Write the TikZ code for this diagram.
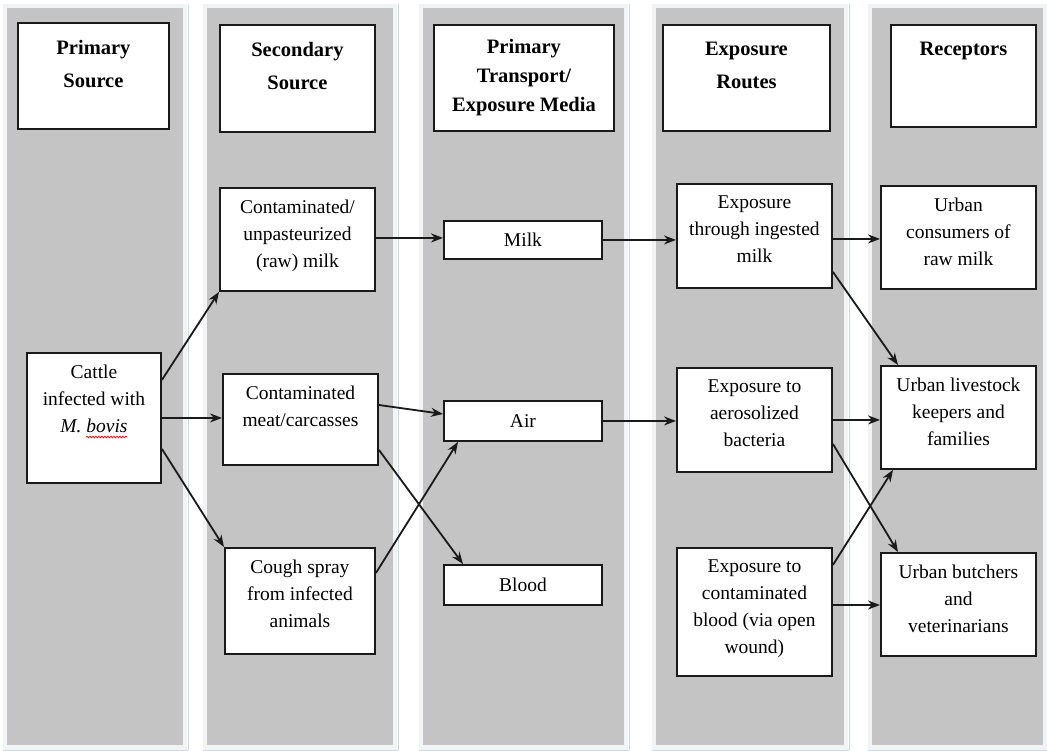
\documentclass[tikz,border=0pt]{standalone}
\usepackage{fontspec}
\setmainfont{Liberation Serif}
\usetikzlibrary{arrows.meta,decorations.pathmorphing}
\definecolor{colgray}{HTML}{C4C4C4}
\definecolor{colframe}{HTML}{F1F3F4}
\definecolor{frameline}{HTML}{C9DAE2}
\definecolor{boxline}{HTML}{1A1A1A}
\tikzset{
  box/.style={draw=boxline, fill=white, line width=1.9pt, inner sep=0pt, anchor=north west,
              font=\fontsize{19.5}{27}\selectfont},
  txt/.style={anchor=north, yshift=-13pt, align=center, inner sep=0pt, font=\fontsize{19.5}{27}\selectfont},
  htxt/.style={anchor=north, yshift=-18pt, align=center, inner sep=0pt, font=\bfseries\fontsize{20.5}{33}\selectfont},
  htxtb/.style={anchor=north, yshift=-15pt, align=center, inner sep=0pt, font=\bfseries\fontsize{20.5}{29}\selectfont},
  arr/.style={draw=boxline, line width=1.8pt, -{Stealth[length=12pt,width=9pt]}},
  colbox/.style={fill=colgray},
}
\begin{document}
\begin{tikzpicture}[x=1pt,y=-1pt]
\useasboundingbox (0,0) rectangle (1047,751);
\fill[white] (0,0) rectangle (1047,751);
% columns
\foreach \a/\b in {7/183, 207/393, 423/624, 656/844, 872/1043}{
  \fill[colframe] (\a-4,4) rectangle (\b+4,750);
  \draw[frameline, line width=1pt] (\b+5,4) -- (\b+5,750);
  \draw[frameline, line width=1pt] (\a-4,750) -- (\b+5,750);
  \fill[colbox] (\a,8) rectangle (\b,745);
}
% headers
\node[box, minimum width=151pt, minimum height=106pt, label={[htxt]north:Primary\\Source}] (h1) at (17,22) {};
\node[box, minimum width=155pt, minimum height=107pt, label={[htxt]north:Secondary\\Source}] (h2) at (219,24) {};
\node[box, minimum width=180pt, minimum height=106pt, label={[htxtb]north:Primary\\Transport/\\Exposure Media}] (h3) at (433,24) {};
\node[box, minimum width=167pt, minimum height=106pt, label={[htxt]north:Exposure\\Routes}] (h4) at (662,24) {};
\node[box, minimum width=145pt, minimum height=102pt, label={[htxt]north:Receptors}] (h5) at (890,24) {};
% column 1
\node[box, minimum width=134pt, minimum height=130pt, label={[txt]north:Cattle\\infected with\\\textit{M. bovis}}] (cattle) at (26,352) {};
\draw[red, line width=0.7pt, decorate, decoration={snake, amplitude=0.9pt, segment length=3pt}] (86,437) -- (127,437);
% column 2
\node[box, minimum width=155pt, minimum height=103pt, label={[txt]north:Contaminated/\\unpasteurized\\(raw) milk}] (rawmilk) at (219,187) {};
\node[box, minimum width=155pt, minimum height=91pt, label={[txt]north:Contaminated\\meat/carcasses}] (meat) at (222,373) {};
\node[box, minimum width=150pt, minimum height=106pt, label={[txt]north:Cough spray\\from infected\\animals}] (cough) at (224,547) {};
% column 3
\node[box, minimum width=158pt, minimum height=38pt] (milk) at (443,220) {Milk};
\node[box, minimum width=158pt, minimum height=40pt] (air) at (443,400) {Air};
\node[box, minimum width=158pt, minimum height=40pt] (blood) at (443,564) {Blood};
% column 4
\node[box, minimum width=155pt, minimum height=104pt, label={[txt]north:Exposure\\through ingested\\milk}] (ingest) at (676,183) {};
\node[box, minimum width=155pt, minimum height=104pt, label={[txt]north:Exposure to\\aerosolized\\bacteria}] (aero) at (676,367) {};
\node[box, minimum width=155pt, minimum height=128pt, label={[txt]north:Exposure to\\contaminated\\blood (via open\\wound)}] (bexp) at (676,547) {};
% column 5
\node[box, minimum width=155pt, minimum height=103pt, label={[txt]north:Urban\\consumers of\\raw milk}] (cons) at (880,185) {};
\node[box, minimum width=155pt, minimum height=103pt, label={[txt]north:Urban livestock\\keepers and\\families}] (live) at (880,365) {};
\node[box, minimum width=155pt, minimum height=103pt, label={[txt]north:Urban butchers\\and\\veterinarians}] (butch) at (880,552) {};
% connectors
\draw[arr] ([yshift=-28pt]cattle.north east) -- (rawmilk.south west);
\draw[arr] (cattle.east) -- (cattle.east -| meat.west);
\draw[arr] ([yshift=35pt]cattle.south east) -- (cough.north west);
\draw[arr] ([yshift=1.5pt]rawmilk.east) -- ([yshift=1.5pt]rawmilk.east -| milk.west);
\draw[arr] ([yshift=-32pt]meat.north east) -- ([yshift=-14pt]air.north west);
\draw[arr] ([yshift=16pt]meat.south east) -- ([xshift=20pt]blood.north west);
\draw[arr] ([yshift=-26pt]cough.north east) -- ([xshift=15pt]air.south west);
\draw[arr] (milk.east) -- (milk.east -| ingest.west);
\draw[arr] (air.east) -- (air.east -| aero.west);
\draw[arr] ([yshift=-3pt]ingest.east) -- ([yshift=-3pt]ingest.east -| cons.west);
\draw[arr] ([yshift=17pt]ingest.south east) -- ([xshift=18pt]live.north west);
\draw[arr] (aero.east) -- (aero.east -| live.west);
\draw[arr] ([yshift=29pt]aero.south east) -- ([xshift=18pt]butch.north west);
\draw[arr] ([yshift=-18pt]bexp.north east) -- ([xshift=13pt]live.south west);
\draw[arr] ([yshift=-58pt]bexp.north east) -- ([yshift=-58pt]bexp.north east -| butch.west);
\end{tikzpicture}
\end{document}
